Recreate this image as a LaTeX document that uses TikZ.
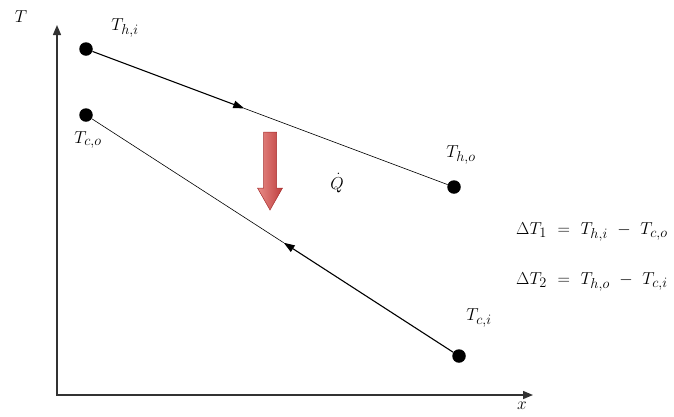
\documentclass[tikz,border=0pt]{standalone}
\usetikzlibrary{arrows.meta,calc}
\DeclareMathSizes{17.28}{17.28}{14.4}{12}
\newcommand{\wideeqsp}{\thickmuskip=11mu\relax\medmuskip=10mu\relax}
\definecolor{redL}{RGB}{232,140,135}
\definecolor{redD}{RGB}{190,62,62}
\definecolor{redE}{RGB}{165,45,45}
\begin{document}
\begin{tikzpicture}[x=1pt,y=-1pt,
  dot/.style={circle,fill=black,inner sep=0pt,minimum size=13.5pt},
  lbl/.style={inner sep=0pt,font=\LARGE},
  eq/.style={inner sep=0pt,font=\LARGE},
  axis/.style={draw=black!80,line width=1.4pt,{Triangle[length=10pt,width=8pt]}-{Triangle[length=10pt,width=8pt]}},
  flowthick/.style={line width=1.1pt,-{Triangle[length=11pt,width=7.5pt]}},
  flowthin/.style={line width=0.6pt}]
\useasboundingbox (0,0) rectangle (674,416);
% axes
\coordinate (O) at (57,395);
\coordinate (ytip) at (57,25);
\coordinate (xtip) at (533,395);
\draw[axis] (ytip) -- (O) -- (xtip);
\node[lbl] (ylab) at (21,17) {$T$};
\node[lbl] (xlab) at (522,406) {$x$};
% state points
\node[dot] (hi) at (86,49) {};
\node[dot] (ho) at (454,187) {};
\node[dot] (co) at (86,115) {};
\node[dot] (ci) at (459,356) {};
% hot stream
\coordinate (hm) at ($(hi)!0.43!(ho)$);
\draw[flowthick] (hi) -- (hm);
\draw[flowthin] (hm) -- (ho);
% cold stream
\coordinate (cm) at ($(ci)!0.47!(co)$);
\draw[flowthick] (ci) -- (cm);
\draw[flowthin] (cm) -- (co);
% labels
\node[lbl] (lhi) at (125,28) {$T_{h,i}$};
\node[lbl] (lco) at (88,140) {$T_{c,o}$};
\node[lbl] (lho) at (461,155) {$T_{h,o}$};
\node[lbl] (lci) at (479,318) {$T_{c,i}$};
\node[lbl] (q) at (337,183) {$\dot{Q}$};
% heat flow arrow
\shade[left color=redL,right color=redD,draw=redE,line width=0.5pt]
  (263.5,132) -- (276.5,132) -- (276.5,188) -- (282.5,188) -- (270,210)
  -- (257.5,188) -- (263.5,188) -- cycle;
% equations
\node[eq,anchor=west] (e1) at (516,232) {$\wideeqsp\Delta T_1 = T_{h,i} - T_{c,o}$};
\node[eq,anchor=west] (e2) at (516,282) {$\wideeqsp\Delta T_2 = T_{h,o} - T_{c,i}$};
\end{tikzpicture}
\end{document}
